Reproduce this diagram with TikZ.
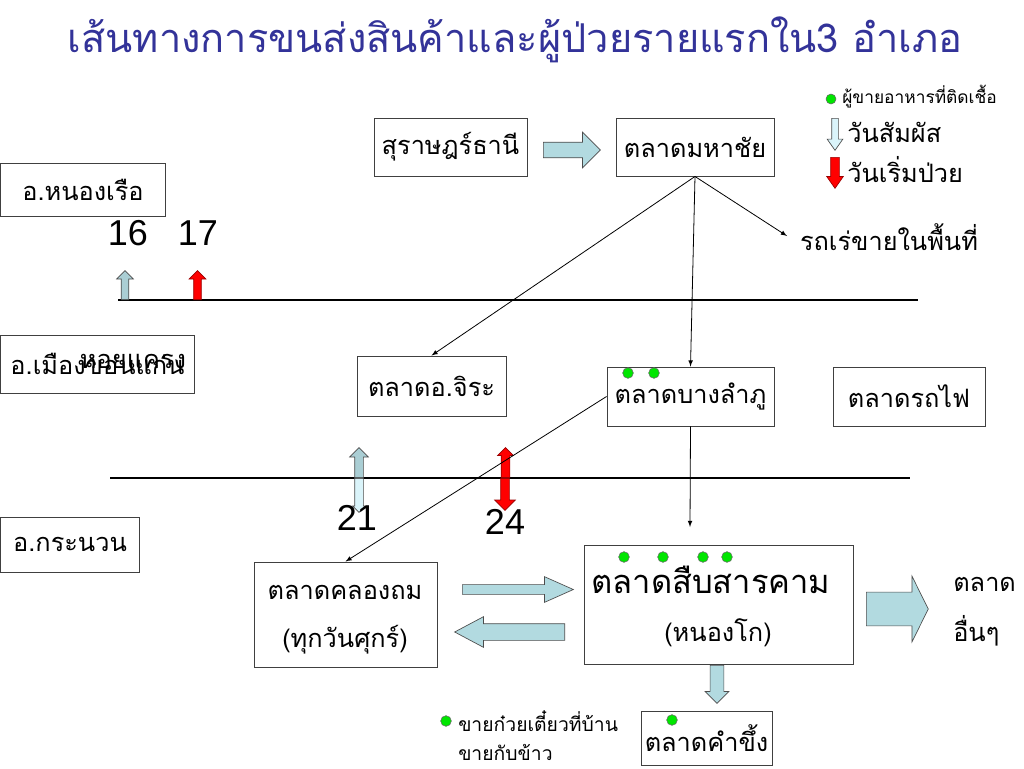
\documentclass[tikz,border=0pt]{standalone}
\usepackage{fontspec}
\setmainfont{Liberation Serif}
\newfontfamily\thai[Script=Thai]{Loma}
\newfontfamily\arial{Liberation Sans}
\usetikzlibrary{shapes.arrows}
\definecolor{titleblue}{RGB}{51,51,153}
\definecolor{arrowblue}{RGB}{178,218,224}
\definecolor{paleblue}{RGB}{218,244,250}
\definecolor{greyblue}{RGB}{170,206,212}
\definecolor{infgreen}{RGB}{0,230,0}

\begin{document}
\begin{tikzpicture}[x=0.75pt,y=-0.75pt,
    box/.style={draw=black!75,line width=0.7pt,inner sep=0pt},
    txt/.style={font=\thai\fontsize{19}{22}\selectfont,inner sep=0pt},
    num/.style={font=\arial\fontsize{27}{30}\selectfont,inner sep=0pt},
    thinarrow/.style={-latex,line width=0.6pt},
    barrow/.style={single arrow,draw=black!70,line width=0.5pt,single arrow head indent=0pt,anchor=tail},
    redarrow/.style={barrow,fill=red,draw=red!60!black},
    dot/.style={circle,draw=black!60,fill=infgreen,line width=0.4pt,inner sep=0pt,minimum size=8pt}]
    \fill[white] (0,0) rectangle (1024,768);
    \useasboundingbox (0,0) rectangle (1024,768);
    % title
    \node[txt,font=\thai\fontsize{29.8}{34}\selectfont,text=titleblue] (title) at (515,40) {เส้นทางการขนส่งสินค้าและผู้ป่วยรายแรกใน3 อำเภอ};
    % legend
    \node[dot,minimum size=7.5pt] (legdot) at (831,99) {};
    \node[txt,anchor=west,font=\thai\fontsize{13}{15}\selectfont] (legsell) at (842,97) {ผู้ขายอาหารที่ติดเชื้อ};
    \node[barrow,fill=paleblue,shape border rotate=270,single arrow tip angle=70,inner sep=2.25pt,minimum height=24pt,minimum width=11.25pt,single arrow head extend=3.4pt] (legblue) at (835,118) {};
    \node[txt,anchor=west] (legcontact) at (847,132) {วันสัมผัส};
    \node[redarrow,shape border rotate=270,single arrow tip angle=70,inner sep=3pt,minimum height=23.25pt,minimum width=12pt,single arrow head extend=3pt] (legred) at (835,157) {};
    \node[txt,anchor=west] (legsick) at (847,170) {วันเริ่มป่วย};
    % districts
    \node[box,txt,minimum width=123.75pt,minimum height=39.75pt] (nongruea) at (83,189.5) {อ.หนองเรือ};
    \node[box,txt,minimum width=145.5pt,minimum height=43.5pt] (khonkaen) at (97.5,364) {อ.เมืองขอนแก่น};
    \node[txt] (hoikhraeng) at (133,361) {หอยแครง};
    \node[box,txt,minimum width=104.25pt,minimum height=41.25pt] (kranuan) at (70,544.5) {อ.กระนวน};
    % markets
    \node[box,txt,minimum width=114.75pt,minimum height=43.5pt] (surat) at (450.5,147) {สุราษฎร์ธานี};
    \node[box,txt,minimum width=118.5pt,minimum height=43.5pt] (mahachai) at (695,147) {ตลาดมหาชัย};
    \node[txt] (rotre) at (889,237) {รถเร่ขายในพื้นที่};
    \node[box,txt,minimum width=111.75pt,minimum height=45pt] (jira) at (431.5,386) {ตลาดอ.จิระ};
    \node[box,txt,minimum width=125.25pt,minimum height=44.25pt] (bangl) at (690.5,396.5) {ตลาดบางลำภู};
    \node[box,txt,minimum width=114pt,minimum height=44.25pt] (rotfai) at (909,396.5) {ตลาดรถไฟ};
    \node[box,minimum width=137.25pt,minimum height=78.75pt] (khlong) at (345.5,614.5) {};
    \node[txt] (khlongname) at (345,592) {ตลาดคลองถม};
    \node[txt] (khlongday) at (345,640) {(ทุกวันศุกร์)};
    \node[box,minimum width=201.75pt,minimum height=89.25pt] (suep) at (718.5,604.5) {};
    \node[txt,font=\thai\fontsize{24.5}{28}\selectfont] (suepname) at (711,580) {ตลาดสืบสารคาม};
    \node[txt] (nongko) at (718,633) {(หนองโก)};
    \node[txt,anchor=west] (otherA) at (953,584) {ตลาด};
    \node[txt,anchor=west] (otherB) at (953,631) {อื่นๆ};
    \node[box,txt,minimum width=98.25pt,minimum height=40.5pt] (kham) at (706.5,738) {ตลาดคำขึ้ง};
    \node[txt,anchor=west,font=\thai\fontsize{14.5}{16}\selectfont] (noodle) at (458,721) {ขายก๋วยเตี๋ยวที่บ้าน};
    \node[txt,anchor=west,font=\thai\fontsize{14.5}{16}\selectfont] (dishes) at (458,752) {ขายกับข้าว};
    % infected sellers
    \node[dot] (dotA) at (628,373) {};
    \node[dot] (dotB) at (654,373) {};
    \node[dot] (dotC) at (624,557) {};
    \node[dot] (dotD) at (663,557) {};
    \node[dot] (dotE) at (703,557) {};
    \node[dot] (dotF) at (727,557) {};
    \node[dot] (dotG) at (672,720) {};
    \node[dot] (dotH) at (446,721) {};
    % time lines
    \draw[line width=0.8pt] (118,300) -- (918,300);
    \draw[line width=0.8pt] (110,478) -- (910,478);
    \node[num] (dayA) at (128,233) {16};
    \node[num] (dayB) at (198,233) {17};
    \node[barrow,fill=greyblue,shape border rotate=90,inner sep=2.6pt,minimum height=21.75pt,minimum width=12pt,single arrow head extend=3.4pt] (upA) at (125,300) {};
    \node[redarrow,shape border rotate=90,inner sep=2.6pt,minimum height=21.75pt,minimum width=12pt,single arrow head extend=3.4pt] (upB) at (197.5,300) {};
    \node[barrow,fill=paleblue,shape border rotate=270,inner sep=3pt,minimum height=25.5pt,minimum width=9pt,single arrow head extend=1.5pt] (downC) at (359,478) {};
    \node[barrow,fill=greyblue,shape border rotate=90,inner sep=3pt,minimum height=22.5pt,minimum width=13.5pt,single arrow head extend=3.75pt] (upC) at (359,478) {};
    \node[redarrow,shape border rotate=270,inner sep=3pt,minimum height=24pt,minimum width=15pt,single arrow head extend=4.5pt] (downD) at (505,478) {};
    \node[redarrow,shape border rotate=90,inner sep=3pt,minimum height=22.5pt,minimum width=11.25pt,single arrow head extend=2.6pt] (upD) at (505.5,478) {};
    \node[num] (dayC) at (357,518) {21};
    \node[num] (dayD) at (505,522) {24};
    % goods routes
    \node[barrow,fill=arrowblue,inner sep=5.6pt,minimum height=42.75pt,minimum width=26.25pt,single arrow head extend=7.5pt] (surat2maha) at (543,150) {};
    \coordinate (rotrein) at (787,236);
    \coordinate (suepin) at (690,527);
    \draw[thinarrow] (mahachai.south) -- (jira.north);
    \draw[thinarrow] (mahachai.south) -- (bangl.north);
    \draw[thinarrow] (mahachai.south) -- (rotrein);
    \draw[thinarrow] (bangl.west) -- (khlong.north);
    \draw[thinarrow] (bangl.south) -- (suepin);
    \node[barrow,fill=arrowblue,single arrow tip angle=48,inner sep=3.4pt,minimum height=83.25pt,minimum width=18.75pt,single arrow head extend=6pt] (khlong2suep) at (462,589.5) {};
    \node[barrow,fill=arrowblue,shape border rotate=180,single arrow tip angle=56,inner sep=6pt,minimum height=82.5pt,minimum width=22.5pt,single arrow head extend=5.25pt] (suep2khlong) at (565,632) {};
    \node[barrow,fill=arrowblue,single arrow tip angle=127,inner sep=12.4pt,minimum height=46.5pt,minimum width=48.75pt,single arrow head extend=12pt] (suep2other) at (866,609) {};
    \node[barrow,fill=arrowblue,shape border rotate=270,inner sep=4.9pt,minimum height=28.5pt,minimum width=17.25pt,single arrow head extend=3.75pt] (suep2kham) at (717,665) {};
\end{tikzpicture}
\end{document}
